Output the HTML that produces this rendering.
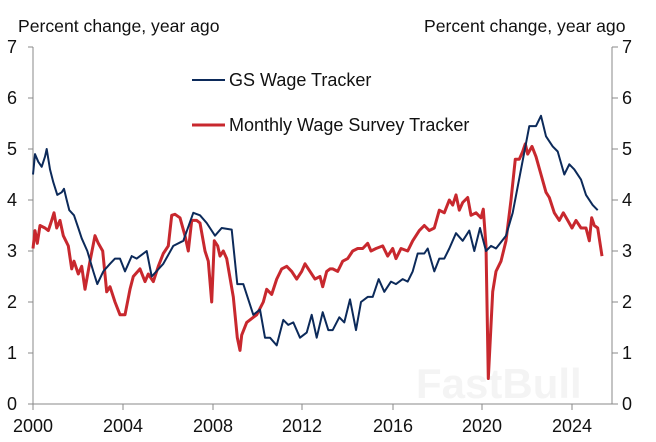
<!DOCTYPE html>
<html><head><meta charset="utf-8"><style>
html,body{margin:0;padding:0;background:#fff;}
svg{display:block;font-family:"Liberation Sans",Arial,sans-serif;}
</style></head><body>
<svg id="c" width="656" height="442" viewBox="0 0 656 442" xmlns="http://www.w3.org/2000/svg">
<rect width="656" height="442" fill="#fff"/>
<text x="18" y="32" font-size="17.6" fill="#111">Percent change, year ago</text>
<text x="424" y="32" font-size="17.6" fill="#111">Percent change, year ago</text>
<g stroke="#888" stroke-width="1" fill="none">
<line x1="33" y1="47" x2="33" y2="404"/>
<line x1="612" y1="47" x2="612" y2="404"/>
<line x1="33" y1="404" x2="612" y2="404"/>
</g>
<g id="ticks" stroke="#888" stroke-width="1"></g>
<g id="labels" font-size="18" fill="#111"></g>
<text x="416" y="398" font-size="42" font-weight="bold" fill="#f4f4f4">FastBull</text>
<path id="red" fill="none" stroke="#c8282e" stroke-width="3" stroke-linejoin="round"/>
<path id="blue" fill="none" stroke="#0c2a5a" stroke-width="2" stroke-linejoin="round"/>
<line x1="192" y1="80" x2="225" y2="80" stroke="#0c2a5a" stroke-width="2"/>
<text x="229" y="86" font-size="18" fill="#111">GS Wage Tracker</text>
<line x1="192" y1="125" x2="225" y2="125" stroke="#c8282e" stroke-width="3"/>
<text x="229" y="131" font-size="18" fill="#111">Monthly Wage Survey Tracker</text>
</svg>
<script>
var Y=function(v){return 404-v*51;};
var t=document.getElementById('ticks'),l=document.getElementById('labels'),ns='http://www.w3.org/2000/svg';
function el(p,n,a,txt){var e=document.createElementNS(ns,n);for(var k in a)e.setAttribute(k,a[k]);if(txt!=null)e.textContent=txt;p.appendChild(e);}
for(var v=0;v<=7;v++){var y=Y(v);
el(t,'line',{x1:28,y1:y,x2:33,y2:y});el(t,'line',{x1:612,y1:y,x2:618,y2:y});
el(l,'text',{x:7,y:y+6},v);el(l,'text',{x:622,y:y+6},v);}
var yrs=[[2000,33],[2004,123],[2008,213],[2012,302],[2016,393],[2020,482],[2024,572]];
yrs.forEach(function(a){el(t,'line',{x1:a[1],y1:404,x2:a[1],y2:410});el(l,'text',{x:a[1],y:432,'text-anchor':'middle'},a[0]);});
function path(L,R){var pts=[];L.forEach(function(p){pts.push([p[0]/3,Y(p[1])]);});R.forEach(function(p){pts.push([326+p[0]/3,Y(p[1])]);});
return 'M'+pts.map(function(p){return p[0].toFixed(1)+','+p[1].toFixed(1);}).join('L');}
var bL=[[99,4.5],[105,4.9],[115,4.75],[125,4.65],[135,4.85],[140,5.0],[150,4.6],[160,4.35],[172,4.1],[185,4.15],[192,4.22],[200,4.0],[208,3.8],[222,3.7],[235,3.45],[245,3.25],[262,3.0],[280,2.6],[292,2.35],[310,2.6],[330,2.75],[345,2.85],[360,2.85],[375,2.6],[395,2.9],[410,2.85],[440,3.0],[455,2.5],[490,2.75],[520,3.1],[550,3.2],[580,3.75],[600,3.7],[620,3.55],[645,3.3],[665,3.45],[695,3.42],[712,2.35],[730,2.35],[760,1.75],[780,1.85],[795,1.3],[810,1.3],[830,1.15],[850,1.65],[865,1.55],[880,1.6],[900,1.3],[920,1.4],[935,1.75],[950,1.3],[968,1.8],[985,1.45]];
var bR=[[20,1.45],[40,1.7],[55,1.6],[72,2.05],[90,1.45],[105,2.0],[125,2.1],[140,2.1],[158,2.45],[175,2.2],[195,2.4],[210,2.35],[230,2.45],[245,2.4],[260,2.6],[275,2.95],[295,2.95],[305,3.05],[325,2.6],[340,2.85],[355,2.85],[370,3.05],[390,3.35],[410,3.2],[430,3.4],[445,3.0],[462,3.45],[480,3.0],[495,3.1],[510,3.05],[540,3.3],[560,3.75],[585,4.6],[610,5.45],[630,5.45],[645,5.65],[660,5.25],[680,5.05],[695,4.95],[715,4.5],[730,4.7],[745,4.6],[765,4.4],[780,4.1],[800,3.9],[815,3.8]];
var rL=[[99,3.05],[105,3.4],[112,3.15],[120,3.5],[135,3.45],[145,3.4],[155,3.6],[162,3.75],[170,3.45],[180,3.6],[190,3.3],[205,3.1],[215,2.65],[222,2.8],[235,2.55],[245,2.7],[255,2.25],[270,2.8],[285,3.3],[295,3.15],[308,3.0],[320,2.2],[330,2.3],[345,2.0],[360,1.75],[375,1.75],[390,2.25],[400,2.5],[420,2.65],[435,2.4],[445,2.55],[460,2.4],[475,2.7],[490,2.95],[505,3.1],[515,3.7],[525,3.72],[540,3.65],[555,3.3],[565,3.0],[575,3.6],[590,3.6],[600,3.55],[615,3.0],[625,2.8],[635,2.0],[643,3.2],[653,3.1],[660,2.9],[670,3.0],[680,2.85],[700,2.1],[712,1.3],[720,1.05],[725,1.35],[740,1.6],[760,1.7],[770,1.75],[790,2.0],[800,2.25],[815,2.15],[830,2.45],[845,2.65],[860,2.7],[875,2.6],[890,2.45],[905,2.6],[915,2.75],[930,2.6],[945,2.45],[960,2.5],[968,2.3],[980,2.6],[990,2.65]];
var rR=[[20,2.65],[35,2.6],[50,2.8],[65,2.85],[80,3.0],[95,3.05],[110,3.05],[125,3.15],[135,3.0],[150,3.05],[170,3.1],[185,2.9],[200,3.05],[210,2.85],[225,3.05],[245,3.0],[260,3.2],[280,3.4],[295,3.5],[310,3.4],[325,3.45],[340,3.8],[355,3.75],[370,4.0],[380,3.9],[390,4.1],[400,3.8],[410,3.95],[425,4.05],[435,3.7],[450,3.75],[465,3.65],[472,3.82],[480,3.1],[487,0.5],[500,2.2],[510,2.6],[525,2.8],[540,3.2],[555,4.0],[568,4.8],[580,4.8],[590,4.95],[598,5.1],[605,4.9],[618,5.05],[630,4.85],[645,4.5],[660,4.15],[670,4.05],[685,3.75],[700,3.6],[712,3.75],[725,3.6],[738,3.45],[750,3.6],[765,3.45],[780,3.45],[790,3.2],[797,3.65],[805,3.5],[815,3.45],[828,2.9]];
document.getElementById('blue').setAttribute('d',path(bL,bR));
document.getElementById('red').setAttribute('d',path(rL,rR));
</script>
</body></html>
